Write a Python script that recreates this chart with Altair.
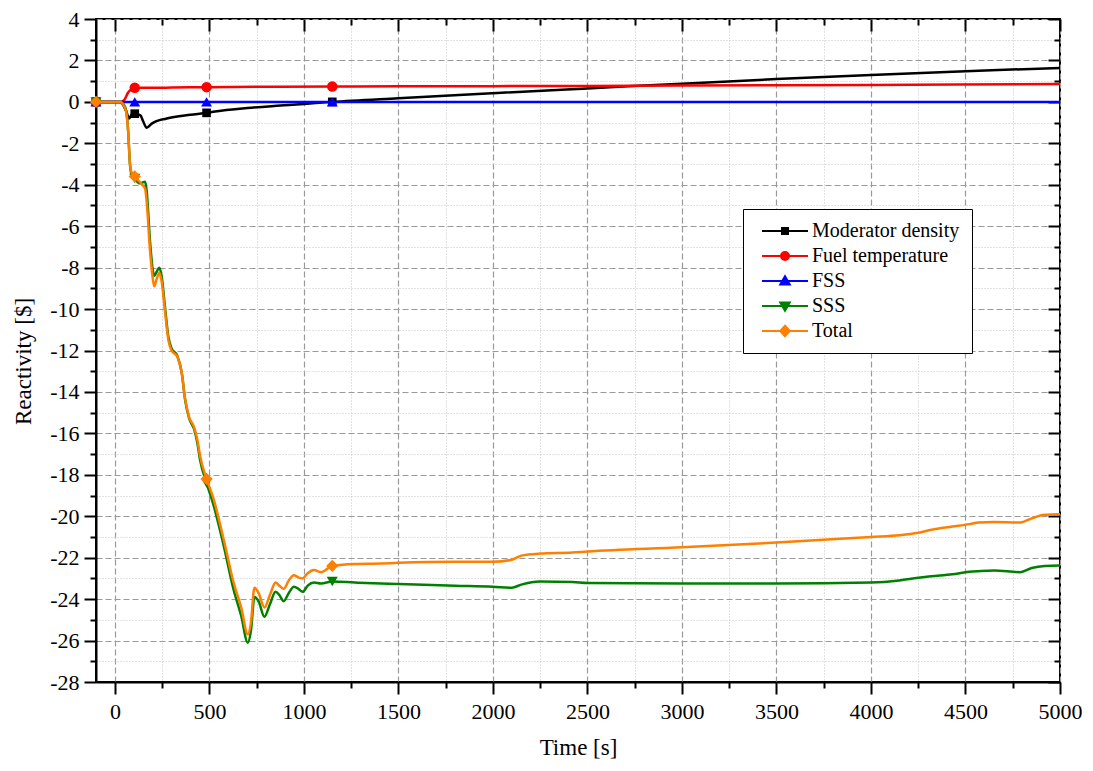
import altair as alt
import pandas as pd

FONT = "Liberation Serif"

series_names = ["Moderator density", "Fuel temperature", "FSS", "SSS", "Total"]
series_colors = ["#000000", "#ff0000", "#0000ff", "#008000", "#ff8000"]
marker_shapes = ["square", "circle", "triangle-up", "triangle-down", "diamond"]
marker_sizes = [75, 110, 120, 120, 150]
marker_times = [-100, 105, 485, 1150]

mod_t = [-100, 30, 44, 60, 75, 90, 105, 135, 150, 168, 195, 274, 400, 485, 520, 700,
         875, 1000, 1150, 1500, 2000, 2500, 3000, 3500, 4000, 4500, 5000]
mod_v = [0, 0, -0.15, -0.45, -0.8, -0.6, -0.57, -0.65, -0.95, -1.25, -1.05, -0.8, -0.62, -0.53, -0.48, -0.3,
         -0.18, -0.1, 0.0, 0.18, 0.42, 0.65, 0.88, 1.1, 1.3, 1.48, 1.64]

fuel_t = [-100, 30, 50, 70, 90, 105, 150, 300, 485, 800, 1150, 1500, 2000, 2500, 3000, 4000, 5000]
fuel_v = [0, 0, 0.1, 0.45, 0.62, 0.68, 0.68, 0.69, 0.71, 0.73, 0.74, 0.75, 0.76, 0.77, 0.79, 0.82, 0.86]

fss_t = [-100, 105, 485, 1150, 5000]
fss_v = [0, 0, 0, 0, 0]

sss_t = [-100, 0, 30, 45, 60, 70, 80, 90, 105, 130, 145, 160, 168, 186, 200, 208, 221, 235, 247, 265,
         283, 300, 330, 354, 371, 392, 419, 436, 451, 485, 520, 575, 628, 668, 703, 720, 738, 760,
         791, 820, 850, 870, 893, 920, 947, 970, 993, 1020, 1053, 1090, 1150, 1270, 1410, 1500, 1800,
         2000, 2100, 2150, 2250, 2420, 2500, 3000, 3500, 4000, 4150, 4250, 4320, 4430, 4520, 4570,
         4650, 4790, 4850, 4920, 5000]
sss_v = [0, 0, 0, -0.1, -0.45, -1.4, -3.05, -3.55, -3.7, -3.93, -3.9, -3.85, -4.3, -6.75, -8.1, -8.4,
         -8.2, -8.0, -8.4, -9.9, -11.35, -11.9, -12.25, -13.1, -14.35, -15.25, -15.8, -16.45, -17.3,
         -18.4, -19.4, -21.4, -23.55, -24.8, -26.1, -25.5, -23.9, -24.1, -24.85, -24.25, -23.65, -23.8,
         -24.1, -23.7, -23.4, -23.5, -23.65, -23.35, -23.2, -23.25, -23.15, -23.2, -23.25, -23.27,
         -23.35, -23.4, -23.45, -23.3, -23.15, -23.17, -23.22, -23.25, -23.25, -23.2, -23.1, -22.97,
         -22.9, -22.8, -22.68, -22.65, -22.62, -22.7, -22.5, -22.4, -22.38]

total_t = sss_t
total_v = [0, 0, 0, -0.15, -0.5, -1.4, -3.0, -3.45, -3.6, -3.85, -4.0, -4.2, -4.8, -7.2, -8.5, -8.9,
           -8.55, -8.25, -8.65, -10.1, -11.5, -12.0, -12.3, -13.1, -14.3, -15.2, -15.7, -16.3, -17.1,
           -18.2, -19.1, -21.1, -23.2, -24.4, -25.7, -25.1, -23.45, -23.7, -24.4, -23.8, -23.2, -23.35,
           -23.5, -23.1, -22.85, -22.95, -23.0, -22.75, -22.6, -22.7, -22.4, -22.3, -22.28, -22.25,
           -22.2, -22.2, -22.1, -21.9, -21.8, -21.75, -21.7, -21.5, -21.27, -21.0, -20.92, -20.8,
           -20.65, -20.5, -20.38, -20.3, -20.28, -20.3, -20.1, -19.93, -19.9]

x_major = list(range(0, 5001, 500))
x_minor = list(range(250, 5000, 500))
y_major = list(range(-28, 5, 2))
y_minor = list(range(-27, 4, 2))

# legend symbols: a line with the marker in the middle (units of sqrt(symbolSize)/2 px)
legend_paths = [
    "M-4.6,0L4.6,0M-0.6,-0.6L0.6,-0.6L0.6,0.6L-0.6,0.6Z",
    "M-4.6,0L4.6,0M-0.8,0A0.8,0.8,0,1,1,0.8,0A0.8,0.8,0,1,1,-0.8,0Z",
    "M-4.6,0L4.6,0M0,-0.95L0.95,0.7L-0.95,0.7Z",
    "M-4.6,0L4.6,0M0,0.95L0.95,-0.7L-0.95,-0.7Z",
    "M-4.6,0L4.6,0M0,-1.05L0.95,0L0,1.05L-0.95,0Z",
]

rows = []
for name, ts, vs in zip(series_names, [mod_t, fuel_t, fss_t, sss_t, total_t],
                        [mod_v, fuel_v, fss_v, sss_v, total_v]):
    for t, v in zip(ts, vs):
        rows.append({"series": name, "t": t, "v": v})
df = pd.DataFrame(rows)

W, H = 964, 663
xscale = alt.Scale(domain=[-100, 5000], nice=False, zero=False)
yscale = alt.Scale(domain=[-28, 4], nice=False, zero=False)
cscale = alt.Scale(domain=series_names, range=series_colors)
sscale = alt.Scale(domain=series_names, range=series_colors)
shscale = alt.Scale(domain=series_names, range=legend_paths)

legend = alt.Legend(
    orient="none", legendX=647, legendY=190, title=None,
    labelFont=FONT, labelFontSize=20, labelColor="black", labelLimit=400,
    strokeColor="black", fillColor="white", padding=12, cornerRadius=0,
    symbolSize=100, symbolStrokeWidth=2, symbolOffset=20, labelOffset=17, rowPadding=5,
    symbolOpacity=1,
)

tick_style = dict(tickColor="black", tickWidth=2, tickCap="butt")
label_style = dict(labelFont=FONT, labelFontSize=22, labelColor="black",
                   labelFlush=False, labelOverlap=False, labelExpr="datum.value + ''")
title_style = dict(titleFont=FONT, titleFontSize=23, titleColor="black", titleFontWeight="normal")

empty = pd.DataFrame({"t": pd.Series(dtype=float), "v": pd.Series(dtype=float),
                      "series": pd.Series(dtype=str)})


def carrier(xa, ya):
    return alt.Chart(empty).mark_point(opacity=0).encode(
        x=alt.X("t:Q", scale=xscale, axis=xa),
        y=alt.Y("v:Q", scale=yscale, axis=ya),
    )


major_bl = carrier(
    alt.Axis(orient="bottom", values=x_major, tickSize=12, labelPadding=7, domain=True,
             domainColor="black", domainWidth=2, grid=True, gridColor="#9a9a9a",
             gridDash=[6, 3], gridWidth=1.2, title="Time [s]", titlePadding=14,
             **tick_style, **label_style, **title_style),
    alt.Axis(orient="left", values=y_major, tickSize=12, labelPadding=5, domain=True,
             domainColor="black", domainWidth=2, grid=True, gridColor="#9a9a9a",
             gridDash=[6, 3], gridWidth=1.2, title="Reactivity [$]", titlePadding=14,
             titleY=342, **tick_style, **label_style, **title_style),
)
minor_bl = carrier(
    alt.Axis(orient="bottom", values=x_minor, tickSize=6, labels=False, domain=False,
             grid=True, gridColor="#c4c4c4", gridDash=[1, 2], gridWidth=1, title=None,
             **tick_style),
    alt.Axis(orient="left", values=y_minor, tickSize=6, labels=False, domain=False,
             grid=True, gridColor="#c4c4c4", gridDash=[1, 2], gridWidth=1, title=None,
             **tick_style),
)
major_tr = carrier(
    alt.Axis(orient="top", values=x_major, tickSize=12, offset=-12, labels=False,
             domain=False, grid=False, title=None, **tick_style),
    alt.Axis(orient="right", values=y_major, tickSize=12, offset=-12, labels=False,
             domain=False, grid=False, title=None, **tick_style),
)
minor_tr = carrier(
    alt.Axis(orient="top", values=x_minor, tickSize=6, offset=-6, labels=False,
             domain=False, grid=False, title=None, **tick_style),
    alt.Axis(orient="right", values=y_minor, tickSize=6, offset=-6, labels=False,
             domain=False, grid=False, title=None, **tick_style),
)

# legend-only layer (no rows): fill, stroke and shape share the series field
legend_layer = alt.Chart(empty).mark_point(filled=True, opacity=1).encode(
    x=alt.X("t:Q", scale=xscale, axis=None),
    y=alt.Y("v:Q", scale=yscale, axis=None),
    color=alt.Color("series:N", scale=cscale, legend=legend),
    stroke=alt.Stroke("series:N", scale=sscale, legend=legend),
    shape=alt.Shape("series:N", scale=shscale, legend=legend),
)

layers = [minor_bl, major_bl, major_tr, minor_tr]
for name, color, shape, msize in zip(series_names, series_colors, marker_shapes, marker_sizes):
    sub = alt.Chart(df).transform_filter(alt.datum.series == name)
    line = sub.mark_line(strokeWidth=2.5, interpolate="monotone", color=color).encode(
        x=alt.X("t:Q", scale=xscale, axis=None),
        y=alt.Y("v:Q", scale=yscale, axis=None),
    )
    pts = sub.transform_filter(
        alt.FieldOneOfPredicate(field="t", oneOf=marker_times)
    ).mark_point(shape=shape, filled=True, size=msize, opacity=1, strokeWidth=1,
                 color=color).encode(
        x=alt.X("t:Q", scale=xscale, axis=None),
        y=alt.Y("v:Q", scale=yscale, axis=None),
    )
    layers += [line, pts]
layers.append(legend_layer)

chart = alt.layer(*layers).resolve_axis(x="independent", y="independent").properties(
    width=W, height=H,
    padding={"left": 88, "top": 11, "right": 22, "bottom": 80},
    autosize=alt.AutoSizeParams(type="none"),
).configure_view(stroke="black", strokeWidth=2).configure_axis(
    labelFont=FONT, labelFontSize=22, labelColor="black",
    titleFont=FONT, titleFontSize=23, titleColor="black", titleFontWeight="normal",
).configure_legend(labelFont=FONT, labelFontSize=20, labelColor="black")

chart.save("out.html", embed_options={"renderer": "svg", "actions": False})
